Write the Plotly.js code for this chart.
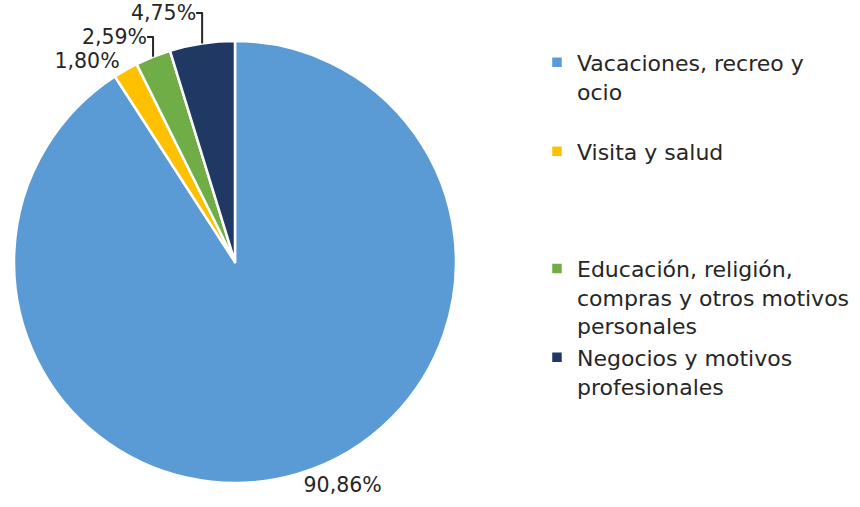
<!DOCTYPE html>
<html>
<head>
<meta charset="utf-8">
<script src="https://cdn.plot.ly/plotly-3.0.1.min.js"></script>
<style>
  html, body { margin: 0; padding: 0; background: #ffffff; }
  #chart { width: 860px; height: 507px; }
</style>
</head>
<body>
<div id="chart"></div>
<script>
// Motivos del viaje (%)
const categories = [
    'Vacaciones, recreo y<br>ocio<br> ',
    'Visita y salud<br> <br> <br> ',
    'Educación, religión,<br>compras y otros motivos<br>personales',
    'Negocios y motivos<br>profesionales'
];
const shares = [90.86, 1.80, 2.59, 4.75];
const sliceColors = ['#5B9BD5', '#FFC000', '#70AD47', '#203864'];

const textColor = '#262626';
const fontFamily = '"DejaVu Sans", sans-serif';

const tracePie = {
    type: 'pie',
    labels: categories,
    values: shares,
    sort: false,
    direction: 'clockwise',
    rotation: 0,
    marker: {
        colors: sliceColors,
        line: { color: '#ffffff', width: 2.5 }
    },
    texttemplate: '%{value:.2f}%',
    textposition: 'outside',
    outsidetextfont: { family: fontFamily, size: 20.5, color: textColor },
    hoverinfo: 'label+value',
    domain: { x: [0.01628, 0.5302], y: [0.0473, 0.9191] },
    automargin: false
};

const layout = {
    width: 860,
    height: 507,
    margin: { t: 0, r: 0, b: 0, l: 0 },
    paper_bgcolor: '#ffffff',
    separators: ',.',
    font: { family: fontFamily, color: textColor },
    showlegend: true,
    legend: {
        x: 0.6244,
        y: 0.918,
        xanchor: 'left',
        yanchor: 'top',
        valign: 'top',
        font: { family: fontFamily, size: 22, color: textColor },
        bgcolor: 'rgba(0,0,0,0)'
    }
};

Plotly.newPlot('chart', [tracePie], layout, { displayModeBar: false, staticPlot: true });
</script>
</body>
</html>
